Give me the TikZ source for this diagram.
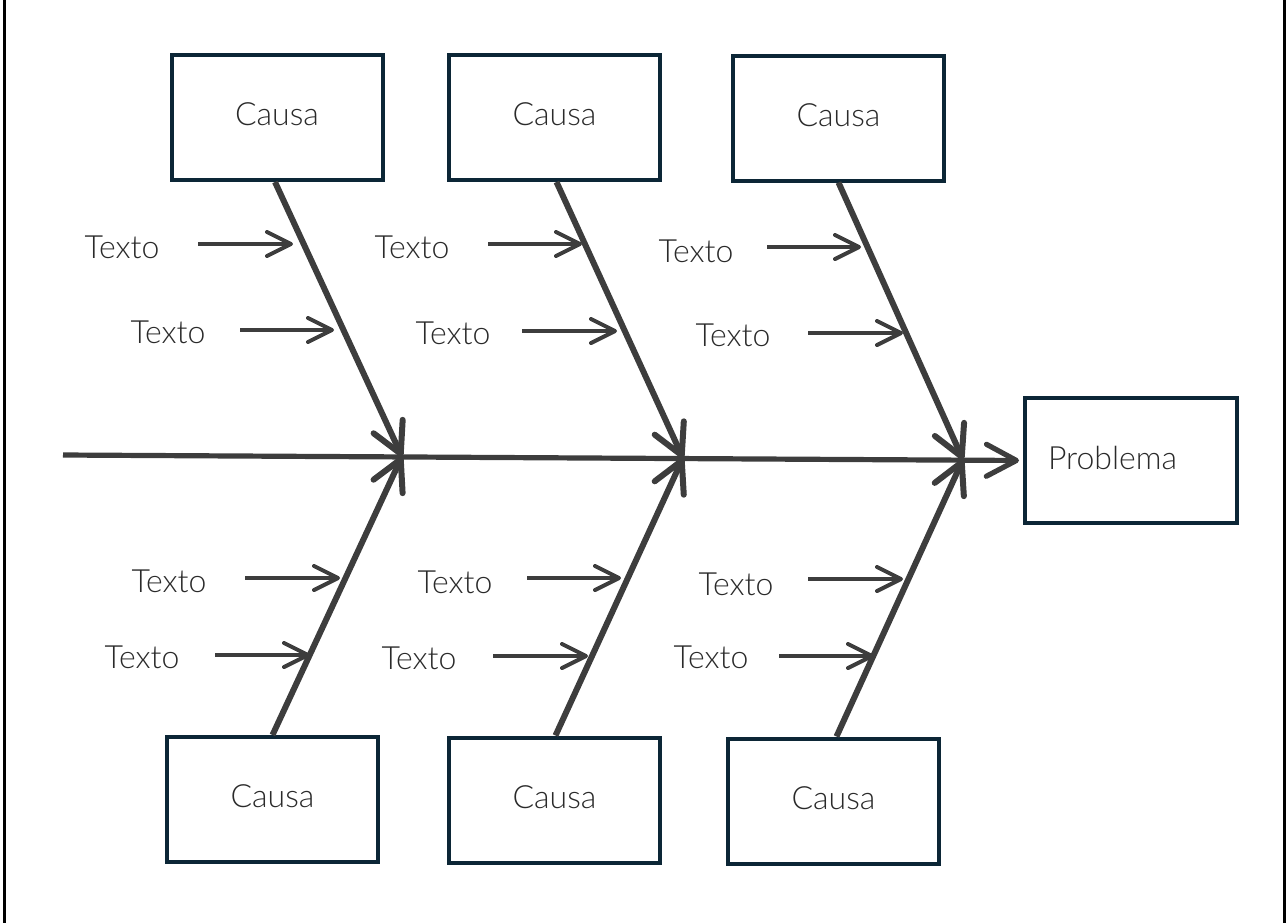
\documentclass[tikz,border=0pt]{standalone}
\usepackage{fontspec}
\setmainfont{Lato Light}
\usetikzlibrary{arrows.meta}
\definecolor{linegray}{HTML}{3D3D3D}
\definecolor{boxnavy}{HTML}{0C2636}
\definecolor{textgray}{HTML}{2A2A2A}
\tikzset{
  causebox/.style={draw=boxnavy, line width=2pt, fill=white, minimum width=105.5pt, minimum height=62.5pt, inner sep=0pt, text depth=3pt, text=textgray, font=\fontsize{16}{19}\selectfont},
  lbl/.style={inner sep=0pt, text=textgray, font=\fontsize{16}{19}\selectfont},
  bone/.style={draw=linegray, line width=3pt, -{Straight Barb[length=15pt,width=16pt,round]}},
  spine/.style={draw=linegray, line width=2.6pt, shorten >=2pt, -{Straight Barb[length=15pt,width=16pt,round]}},
  twig/.style={draw=linegray, line width=2pt, -{Straight Barb[length=12pt,width=12pt,round]}},
  frameline/.style={draw=black, line width=1.5pt}
}
\begin{document}
\begin{tikzpicture}[x=0.5pt,y=-0.5pt]
\useasboundingbox (0,0) rectangle (1286,923);
% frame side lines
\coordinate (fl1) at (4.5,0); \coordinate (fl2) at (4.5,923);
\coordinate (fr1) at (1284.5,0); \coordinate (fr2) at (1284.5,923);
\draw[frameline] (fl1) -- (fl2);
\draw[frameline] (fr1) -- (fr2);
% boxes
\node[causebox] (c1) at (277,117.5) {Causa};
\node[causebox] (c2) at (554.5,117.5) {Causa};
\node[causebox] (c3) at (838.5,118) {Causa};
\node[causebox] (c4) at (272.5,799.5) {Causa};
\node[causebox] (c5) at (554.5,800) {Causa};
\node[causebox] (c6) at (833.5,801) {Causa};
\node[causebox, text width=83pt, inner xsep=11.5pt, align=left] (p) at (1131,460.5) {Problema};
% junctions on spine
\coordinate (s0) at (63,455);
\coordinate (j1) at (402,456.5);
\coordinate (j2) at (683,458);
\coordinate (j3) at (963,459.5);
% spine
\draw[spine] (s0) -- (p.west);
% bones
\draw[bone] ([xshift=-1pt]c1.south) -- (j1);
\draw[bone] ([xshift=1pt]c2.south) -- (j2);
\draw[bone] (c3.south) -- (j3);
\draw[bone] (c4.north) -- (j1);
\draw[bone] ([xshift=0.5pt]c5.north) -- (j2);
\draw[bone] ([xshift=1.5pt]c6.north) -- (j3);
% labels
\node[lbl] (t1) at (122,247) {Texto};
\node[lbl] (t2) at (168,332) {Texto};
\node[lbl] (t3) at (412,247) {Texto};
\node[lbl] (t4) at (453,333) {Texto};
\node[lbl] (t5) at (696,251) {Texto};
\node[lbl] (t6) at (733,335) {Texto};
\node[lbl] (b1) at (169,581) {Texto};
\node[lbl] (b2) at (142,657) {Texto};
\node[lbl] (b3) at (455,582) {Texto};
\node[lbl] (b4) at (419,658) {Texto};
\node[lbl] (b5) at (736,584) {Texto};
\node[lbl] (b6) at (711,657) {Texto};
% twig end points
\coordinate (t1a) at (198,244); \coordinate (t1b) at (293,244);
\coordinate (t2a) at (240,330); \coordinate (t2b) at (334,330);
\coordinate (t3a) at (488,244); \coordinate (t3b) at (582,244);
\coordinate (t4a) at (522,331); \coordinate (t4b) at (617,331);
\coordinate (t5a) at (767,247); \coordinate (t5b) at (861,247);
\coordinate (t6a) at (808,333); \coordinate (t6b) at (903,333);
\coordinate (b1a) at (245,578); \coordinate (b1b) at (340,578);
\coordinate (b2a) at (215,655); \coordinate (b2b) at (310,655);
\coordinate (b3a) at (527,578); \coordinate (b3b) at (621,578);
\coordinate (b4a) at (493,656); \coordinate (b4b) at (588,656);
\coordinate (b5a) at (808,579); \coordinate (b5b) at (903,579);
\coordinate (b6a) at (779,656); \coordinate (b6b) at (874,656);
\foreach \n in {t1,t2,t3,t4,t5,t6,b1,b2,b3,b4,b5,b6}{
  \draw[twig] (\n a) -- (\n b);
}
\end{tikzpicture}
\end{document}
